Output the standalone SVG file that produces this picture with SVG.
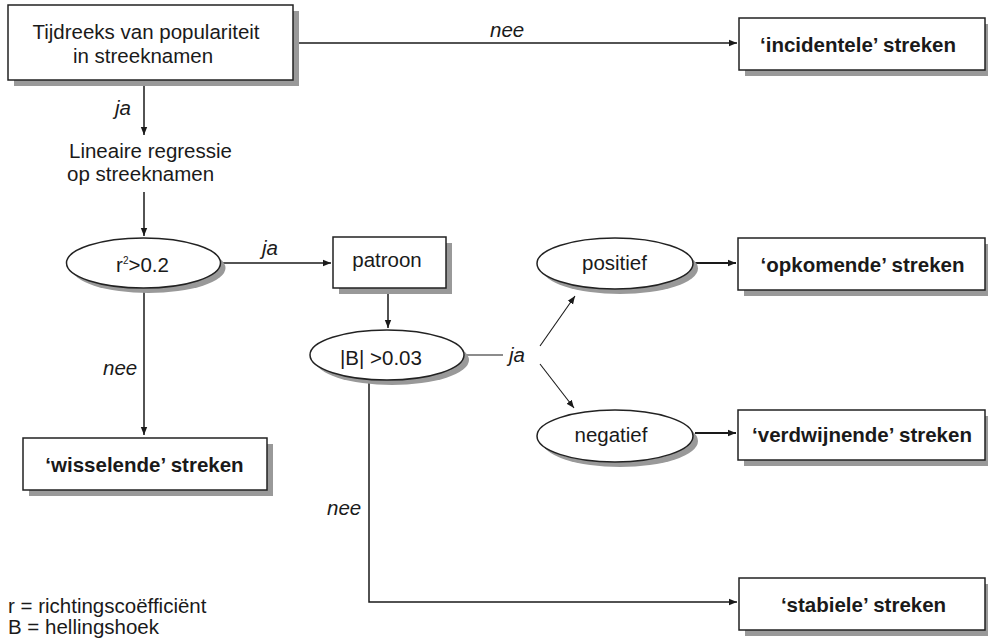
<svg xmlns="http://www.w3.org/2000/svg" width="988" height="638" viewBox="0 0 988 638">
<style>
text{font-family:"Liberation Sans",Arial,sans-serif;font-size:20.5px;fill:#1a1a1a}
.c{text-anchor:middle}
.b{font-weight:bold}
.i{font-style:italic}
.box{fill:#fff;stroke:#222;stroke-width:1.5}
.sh{fill:#999}
.ln{fill:none;stroke:#1a1a1a;stroke-width:1.5}
.thin{stroke-width:1.1}
</style>
<defs>
<marker id="ah" viewBox="0 0 10 10" refX="10" refY="5" markerWidth="8" markerHeight="8" markerUnits="userSpaceOnUse" orient="auto">
<path d="M0,1 L10,5 L0,9 z" fill="#1a1a1a"/>
</marker>
</defs>
<rect width="988" height="638" fill="#fff"/>

<g id="connectors">
<path class="ln" d="M293,43 H737" marker-end="url(#ah)"/>
<path class="ln" d="M144,80 V135" marker-end="url(#ah)"/>
<path class="ln" d="M144,192 V236" marker-end="url(#ah)"/>
<path class="ln" d="M222,263 H331" marker-end="url(#ah)"/>
<path class="ln" d="M388,288 V328" marker-end="url(#ah)"/>
<path class="ln thin" d="M466,355 H503"/>
<path class="ln thin" d="M540,346 L575,296" marker-end="url(#ah)"/>
<path class="ln thin" d="M540,364 L574,408" marker-end="url(#ah)"/>
<path class="ln" d="M695,263 H736" marker-end="url(#ah)" style="stroke-width:2"/>
<path class="ln" d="M695,433 H736" marker-end="url(#ah)" style="stroke-width:2"/>
<path class="ln" d="M144,289 V435" marker-end="url(#ah)"/>
<path class="ln" d="M369,380 V602 H737" marker-end="url(#ah)"/>
<text class="i" x="490" y="37">nee</text>
<text class="i" x="115" y="115">ja</text>
<text class="i" x="262" y="255">ja</text>
<text class="i" x="509" y="362">ja</text>
<text class="i" x="103" y="375">nee</text>
<text class="i" x="327" y="515">nee</text>
</g>

<g id="n-tijdreeks">
<rect class="sh" x="14" y="11" width="285" height="75"/>
<rect class="box" x="8" y="5" width="285" height="75"/>
<text class="c" x="146" y="39">Tijdreeks van populariteit</text>
<text class="c" x="143" y="63">in streeknamen</text>
</g>

<g id="n-incidentele">
<rect class="sh" x="745" y="24" width="246" height="52"/>
<rect class="box" x="739" y="18" width="246" height="52"/>
<text class="c b" x="858" y="52">‘incidentele’ streken</text>
</g>

<g id="n-regressie">
<text class="c" x="150.5" y="158">Lineaire regressie</text>
<text class="c" x="140.6" y="181">op streeknamen</text>
</g>

<g id="n-r2">
<ellipse class="sh" cx="148.5" cy="268" rx="77" ry="25"/>
<ellipse class="box" cx="143.5" cy="263" rx="77" ry="25"/>
<text class="c" x="142.5" y="272">r<tspan dy="-8" font-size="10">2</tspan><tspan dy="8">&gt;0.2</tspan></text>
</g>

<g id="n-patroon">
<rect class="sh" x="339" y="243" width="113" height="51"/>
<rect class="box" x="333" y="237" width="113" height="51"/>
<text class="c" x="387" y="267">patroon</text>
</g>

<g id="n-B">
<ellipse class="sh" cx="392" cy="360" rx="77" ry="25"/>
<ellipse class="box" cx="387" cy="355" rx="77" ry="25"/>
<text x="340" y="365">|B| &gt;0.03</text>
</g>

<g id="n-positief">
<ellipse class="sh" cx="620" cy="268.5" rx="78" ry="25.5"/>
<ellipse class="box" cx="615" cy="263.5" rx="78" ry="25.5"/>
<text class="c" x="614.5" y="270">positief</text>
</g>

<g id="n-negatief">
<ellipse class="sh" cx="620" cy="441" rx="78" ry="26"/>
<ellipse class="box" cx="615" cy="436" rx="78" ry="26"/>
<text class="c" x="611" y="442">negatief</text>
</g>

<g id="n-opkomende">
<rect class="sh" x="744" y="244" width="247" height="52"/>
<rect class="box" x="738" y="238" width="247" height="52"/>
<text class="c b" x="862.5" y="272">‘opkomende’ streken</text>
</g>

<g id="n-verdwijnende">
<rect class="sh" x="744" y="416" width="247" height="50"/>
<rect class="box" x="738" y="410" width="247" height="50"/>
<text class="c b" x="862" y="442">‘verdwijnende’ streken</text>
</g>

<g id="n-wisselende">
<rect class="sh" x="29" y="444" width="244" height="52"/>
<rect class="box" x="23" y="438" width="244" height="52"/>
<text class="c b" x="144.5" y="472">‘wisselende’ streken</text>
</g>

<g id="n-stabiele">
<rect class="sh" x="745" y="584" width="246" height="52"/>
<rect class="box" x="739" y="578" width="246" height="52"/>
<text class="c b" x="863.5" y="612">‘stabiele’ streken</text>
</g>

<g id="legend">
<text x="8" y="613">r = richtingscoëfficiënt</text>
<text x="8" y="634">B = hellingshoek</text>
</g>
</svg>
